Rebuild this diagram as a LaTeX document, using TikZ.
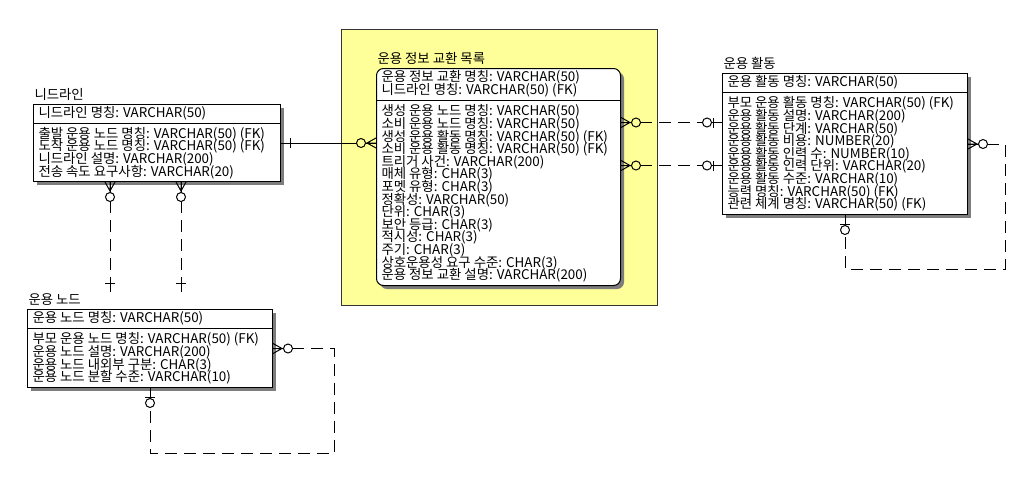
\documentclass[tikz,border=0pt]{standalone}
\usepackage{fontspec}
\usepackage{tikz}
\usetikzlibrary{positioning,shadows,calc}
\newfontfamily\hangul{Noto Sans CJK KR}
\newcommand\rowfont{\hangul\fontsize{13.4}{12.6}\selectfont\lineskiplimit=-20pt\relax}
\definecolor{areacolor}{RGB}{255,255,153}
\definecolor{shadecolor}{RGB}{125,125,125}

\begin{document}
\begin{tikzpicture}[x=1pt,y=-1pt,line width=1pt,font=\rowfont]
 \tikzstyle{entity}=[draw,fill=white,anchor=north west,inner sep=0pt,drop shadow={shadow xshift=3.5pt,shadow yshift=-3.5pt,fill=shadecolor,opacity=1}]
 \tikzstyle{rows}=[anchor=north west,align=left,inner xsep=5pt,inner ysep=0pt]
 \tikzstyle{title}=[inner sep=1pt]
 \tikzstyle{fkline}=[dash pattern=on 12pt off 7pt]
 \tikzset{
  pics/many/.style={code={\draw[solid] (0,-5) -- (9,0) -- (0,5) (0,0) -- (10,0);}},
  pics/bar/.style={code={\draw[solid] (9,-5) -- (9,5) (0,0) -- (10,0);}},
  pics/ring/.style={code={\draw[solid,pic actions] (15,0) circle (4.5);}}
 }
 \useasboundingbox (0,0) rectangle (1024,501);

   \node[draw=black!80,line width=1.2pt,fill=areacolor,anchor=north west,minimum width=316,minimum height=276] (area) at (341,29) {};

   \node[entity,minimum width=247,minimum height=77] (need) at (33,104) {};
   \node[title,above right=2pt and 0pt of need.north west] (need-title) {니드라인};
   \node[rows,minimum height=18] (need-key) at (need.north west) {니드라인 명칭: VARCHAR(50)};
   \node[rows,minimum height=59] (need-attr) at (need-key.south west) {출발 운용 노드 명칭: VARCHAR(50) (FK)\\도착 운용 노드 명칭: VARCHAR(50) (FK)\\니드라인 설명: VARCHAR(200)\\전송 속도 요구사항: VARCHAR(20)};
   \draw (need-attr.north west) -- (need-attr.north -| need.east);

   \node[entity,minimum width=245,minimum height=78] (opnode) at (27,309) {};
   \node[title,above right=2pt and 0pt of opnode.north west] (opnode-title) {운용 노드};
   \node[rows,minimum height=18] (opnode-key) at (opnode.north west) {운용 노드 명칭: VARCHAR(50)};
   \node[rows,minimum height=60] (opnode-attr) at (opnode-key.south west) {부모 운용 노드 명칭: VARCHAR(50) (FK)\\운용 노드 설명: VARCHAR(200)\\운용 노드 내외부 구분: CHAR(3)\\운용 노드 분할 수준: VARCHAR(10)};
   \draw (opnode-attr.north west) -- (opnode-attr.north -| opnode.east);

   \node[entity,rounded corners=7pt,minimum width=244,minimum height=217] (iel) at (376,68) {};
   \node[title,above right=2pt and 0pt of iel.north west] (iel-title) {운용 정보 교환 목록};
   \node[rows,minimum height=31] (iel-key) at (iel.north west) {운용 정보 교환 명칭: VARCHAR(50)\\니드라인 명칭: VARCHAR(50) (FK)};
   \node[rows,minimum height=186] (iel-attr) at (iel-key.south west) {생성 운용 노드 명칭: VARCHAR(50)\\소비 운용 노드 명칭: VARCHAR(50)\\생성 운용 활동 명칭: VARCHAR(50) (FK)\\소비 운용 활동 명칭: VARCHAR(50) (FK)\\트리거 사건: VARCHAR(200)\\매체 유형: CHAR(3)\\포멧 유형: CHAR(3)\\정확성: VARCHAR(50)\\단위: CHAR(3)\\보안 등급: CHAR(3)\\적시성: CHAR(3)\\주기: CHAR(3)\\상호운용성 요구 수준: CHAR(3)\\운용 정보 교환 설명: VARCHAR(200)};
   \draw (iel-attr.north west) -- (iel-attr.north -| iel.east);

   \node[entity,minimum width=245,minimum height=141] (act) at (722,73) {};
   \node[title,above right=2pt and 0pt of act.north west] (act-title) {운용 활동};
   \node[rows,minimum height=18] (act-key) at (act.north west) {운용 활동 명칭: VARCHAR(50)};
   \node[rows,minimum height=123] (act-attr) at (act-key.south west) {부모 운용 활동 명칭: VARCHAR(50) (FK)\\운용 활동 설명: VARCHAR(200)\\운용 활동 단계: VARCHAR(50)\\운용 활동 비용: NUMBER(20)\\운용 활동 인력 수: NUMBER(10)\\운용 활동 인력 단위: VARCHAR(20)\\운용 활동 수준: VARCHAR(10)\\능력 명칭: VARCHAR(50) (FK)\\관련 체계 명칭: VARCHAR(50) (FK)};
   \draw (act-attr.north west) -- (act-attr.north -| act.east);

   \draw (need.east) -- (iel.west |- need.east);
   \pic at (need.east) {bar};
   \pic[rotate=180] at (iel.west |- need.east) {many};
   \pic[rotate=180,fill=areacolor] at (iel.west |- need.east) {ring};

   \path (act.west) ++(0,-21.5) coordinate (act-in1) ++(0,43) coordinate (act-in2);
   \foreach \k in {1,2} {
     \draw[fkline] (iel.east |- act-in\k) -- (act-in\k);
     \pic at (iel.east |- act-in\k) {many};
     \pic[fill=areacolor] at (iel.east |- act-in\k) {ring};
     \pic[rotate=180] at (act-in\k) {bar};
     \pic[rotate=180,fill=white] at (act-in\k) {ring};
   }

   \coordinate (need-out1) at ([xshift=77]need.south west);
   \coordinate (need-out2) at ([xshift=148]need.south west);
   \foreach \k in {1,2} {
     \draw[fkline] (need-out\k) -- (need-out\k |- opnode-title.north);
     \pic[rotate=-90] at (need-out\k) {many};
     \pic[rotate=-90,fill=white] at (need-out\k) {ring};
     \pic[rotate=90] at (need-out\k |- opnode-title.north) {bar};
   }

   \draw[fkline] (opnode.east) -- ++(61,0) |- ($(opnode.south)+(0,65)$) -- (opnode.south);
   \pic at (opnode.east) {many};
   \pic[fill=white] at (opnode.east) {ring};
   \pic[rotate=-90] at (opnode.south) {bar};
   \pic[rotate=-90,fill=white] at (opnode.south) {ring};

   \draw[fkline] (act.east) -- ++(37,0) |- ($(act.south)+(0,54)$) -- (act.south);
   \pic at (act.east) {many};
   \pic[fill=white] at (act.east) {ring};
   \pic[rotate=-90] at (act.south) {bar};
   \pic[rotate=-90,fill=white] at (act.south) {ring};
\end{tikzpicture}
\end{document}
